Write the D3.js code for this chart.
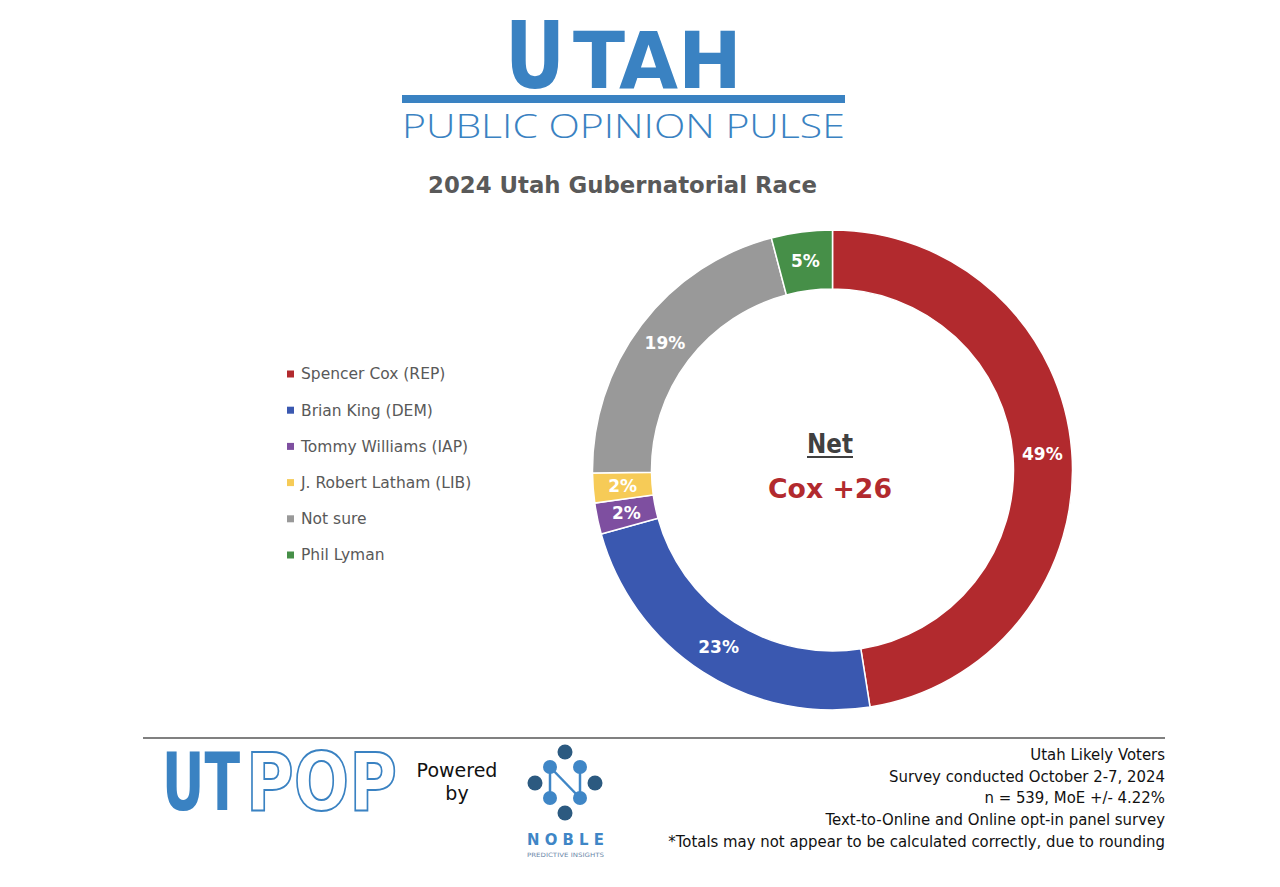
<!DOCTYPE html>
<html><head><meta charset="utf-8">
<script src="https://cdn.jsdelivr.net/npm/d3@7"></script>
<style>body{margin:0;background:#fff}svg{display:block}</style>
</head><body>
<script>
const categories = ["Spencer Cox (REP)","Brian King (DEM)","Tommy Williams (IAP)","J. Robert Latham (LIB)","Not sure","Phil Lyman"];
const values = [47.5, 23.2, 2.1, 2.0, 21.1, 4.1];
const valueLabels = ["49%","23%","2%","2%","19%","5%"];
const colors = ["#B22A2E","#3A58B0","#7E4FA0","#F6CB57","#999999","#468F48"];
const footerLines = ["Utah Likely Voters","Survey conducted October 2-7, 2024","n = 539, MoE +/- 4.22%","Text-to-Online and Online opt-in panel survey","*Totals may not appear to be calculated correctly, due to rounding"];

const W = 1280, H = 887;
const svg = d3.select("body").append("svg").attr("width", W).attr("height", H);
const F = "'DejaVu Sans', Verdana, sans-serif";
const blue = "#3A82C2";

// text scaled horizontally to a target width (bbox stays true)
function ftext(parent, x, y, w, anchor, size, weight, family, fill, str){
  const t = parent.append("text").attr("x",0).attr("y",0).attr("text-anchor",anchor)
    .attr("font-family",family).attr("font-size",size).attr("font-weight",weight).attr("fill",fill).text(str);
  const w0 = t.node().getComputedTextLength();
  t.attr("transform",`translate(${x},${y}) scale(${w/w0},1)`);
  return t;
}

// Header
ftext(svg,505,88,60,"start",93,700,F,blue,"U");
ftext(svg,573,88,169,"start",78,700,F,blue,"TAH");
svg.append("rect").attr("x",402).attr("y",95).attr("width",443).attr("height",8).attr("fill",blue);
ftext(svg,402,138,443,"start",33,300,"'Open Sans', sans-serif",blue,"PUBLIC OPINION PULSE");

// Title
ftext(svg,428,193,389,"start",23,700,F,"#595959","2024 Utah Gubernatorial Race");

// Donut
const cx = 832.5, cy = 470;
const pie = d3.pie().sort(null).value(d=>d).startAngle(0).endAngle(2*Math.PI);
const arc = d3.arc().innerRadius(181).outerRadius(240);
const g = svg.append("g").attr("transform",`translate(${cx},${cy})`);
const arcs = pie(values);
g.selectAll("path").data(arcs).join("path").attr("d",arc)
  .attr("fill",(d,i)=>colors[i]).attr("stroke","#fff").attr("stroke-width",1.5);
g.selectAll("text.lbl").data(arcs).join("text").attr("class","lbl")
  .attr("transform",d=>`translate(${arc.centroid(d)})`).attr("text-anchor","middle").attr("dy","0.36em")
  .attr("font-family",F).attr("font-weight",700).attr("font-size",17).attr("fill","#fff")
  .text((d,i)=>valueLabels[i]);

// Center text
ftext(svg,830,453,46,"middle",26,700,F,"#404040","Net");
svg.append("rect").attr("x",807).attr("y",456).attr("width",46).attr("height",2).attr("fill","#404040");
ftext(svg,830,498,124,"middle",27,700,F,"#B22A2E","Cox +26");

// Legend
const lg = svg.append("g");
const rowY = d3.scalePoint().domain(categories).range([374,555]);
lg.selectAll("rect").data(categories).join("rect").attr("x",287).attr("y",d=>rowY(d)-3.5).attr("width",7).attr("height",7)
  .attr("fill",(d,i)=>colors[i]);
lg.selectAll("text").data(categories).join("text").attr("x",301).attr("y",d=>rowY(d)).attr("dy","0.35em")
  .attr("font-family",F).attr("font-size",15.5).attr("fill","#595959").text(d=>d);

// Footer rule
svg.append("line").attr("x1",143).attr("x2",1165).attr("y1",738).attr("y2",738).attr("stroke","#808080").attr("stroke-width",2);

// UTPOP logo
ftext(svg,162,810,78,"start",80,700,F,blue,"UT");
ftext(svg,246,810,151,"start",80,700,F,"#fff","POP").attr("stroke",blue).attr("stroke-width",2);

// Powered by
svg.append("text").attr("x",457).attr("y",777).attr("text-anchor","middle").attr("font-family",F)
  .attr("font-size",19).attr("fill","#111").text("Powered");
svg.append("text").attr("x",457).attr("y",800).attr("text-anchor","middle").attr("font-family",F)
  .attr("font-size",19).attr("fill","#111").text("by");

// Noble logo
const nb = svg.append("g");
const dark = "#2C5A80", light = "#3F86C6";
const nLines = [[550,798,550,767],[550,767,580,798],[580,798,580,767]];
nLines.forEach(l=>nb.append("line").attr("x1",l[0]).attr("y1",l[1]).attr("x2",l[2]).attr("y2",l[3]).attr("stroke",light).attr("stroke-width",2.5));
[[565,752],[565,813],[535,783],[595,783]].forEach(p=>nb.append("circle").attr("cx",p[0]).attr("cy",p[1]).attr("r",7.5).attr("fill",dark));
[[550,767],[580,767],[550,798],[580,798]].forEach(p=>nb.append("circle").attr("cx",p[0]).attr("cy",p[1]).attr("r",7).attr("fill",light));
ftext(nb,527,845,77,"start",15,700,F,light,"N O B L E");
ftext(nb,527,857,77,"start",6,400,F,"#6a86a8","PREDICTIVE INSIGHTS");

// Footer notes: one common horizontal scale so all lines share the same size
const fg = svg.append("g");
const ft = fg.selectAll("text").data(footerLines).join("text").attr("x",0).attr("y",0).attr("text-anchor","end")
  .attr("font-family",F).attr("font-size",15).attr("fill","#111").text(d=>d);
const longest = d3.max(ft.nodes(), n=>n.getComputedTextLength());
const fs = 497/longest;
ft.attr("transform",(d,i)=>`translate(1165,${760+i*21.7}) scale(${fs},1)`);
</script>
</body></html>
